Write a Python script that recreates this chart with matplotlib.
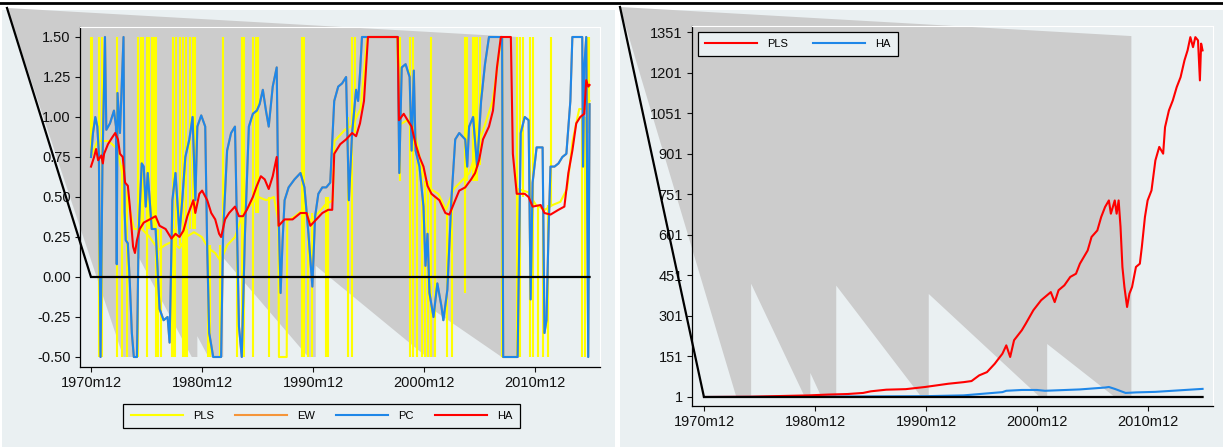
import matplotlib
matplotlib.use("Agg")
import matplotlib.pyplot as plt
from matplotlib.patches import Rectangle, Polygon
from matplotlib.lines import Line2D

plt.rcParams['font.family'] = ['Liberation Sans', 'DejaVu Sans']

# ---------------- left panel : forecast weights (clipped to [-0.5, 1.5]) ----------------
ha = [(1970.92, 0.69), (1971.20, 0.75), (1971.38, 0.80), (1971.56, 0.73), (1971.85, 0.76),
      (1971.99, 0.71), (1972.10, 0.77), (1972.45, 0.83), (1972.81, 0.87), (1973.10, 0.90),
      (1973.35, 0.86), (1973.53, 0.77), (1973.78, 0.75), (1973.99, 0.59), (1974.24, 0.57),
      (1974.42, 0.44), (1974.71, 0.19), (1974.88, 0.15), (1975.06, 0.23), (1975.31, 0.30),
      (1975.67, 0.34), (1976.21, 0.36), (1976.74, 0.38), (1977.10, 0.32), (1977.64, 0.30),
      (1978.17, 0.24), (1978.53, 0.27), (1978.89, 0.25), (1979.25, 0.29), (1979.60, 0.38),
      (1980.14, 0.48), (1980.32, 0.40), (1980.68, 0.52), (1980.93, 0.54), (1981.39, 0.48),
      (1981.75, 0.40), (1982.11, 0.36), (1982.46, 0.27), (1982.64, 0.25), (1983.00, 0.36),
      (1983.36, 0.40), (1983.89, 0.44), (1984.25, 0.38), (1984.61, 0.38), (1984.96, 0.42),
      (1985.50, 0.50), (1985.86, 0.57), (1986.22, 0.63), (1986.57, 0.61), (1986.93, 0.55),
      (1987.29, 0.63), (1987.65, 0.75), (1987.82, 0.32), (1988.36, 0.36), (1989.08, 0.36),
      (1989.79, 0.40), (1990.33, 0.40), (1990.68, 0.32), (1991.22, 0.36), (1991.76, 0.40),
      (1992.29, 0.42), (1992.65, 0.42), (1992.83, 0.77), (1993.37, 0.83), (1993.90, 0.86),
      (1994.44, 0.90), (1994.80, 0.88), (1995.15, 0.96), (1995.51, 1.10), (1995.87, 1.50),
      (1998.55, 1.50), (1998.66, 0.98), (1999.09, 1.02), (1999.44, 0.98), (1999.80, 0.94),
      (2000.16, 0.83), (2000.51, 0.75), (2000.87, 0.69), (2001.23, 0.57), (2001.59, 0.52),
      (2001.94, 0.50), (2002.30, 0.48), (2002.84, 0.40), (2003.20, 0.39), (2003.73, 0.48),
      (2004.09, 0.54), (2004.63, 0.56), (2005.16, 0.61), (2005.52, 0.65), (2005.88, 0.73),
      (2006.23, 0.86), (2006.77, 0.94), (2007.13, 1.04), (2007.49, 1.31), (2007.84, 1.50),
      (2008.74, 1.50), (2008.92, 0.77), (2009.27, 0.52), (2009.99, 0.52), (2010.34, 0.50),
      (2010.70, 0.44), (2011.42, 0.45), (2011.77, 0.40), (2012.31, 0.39), (2013.03, 0.42),
      (2013.56, 0.44), (2013.92, 0.65), (2014.28, 0.79), (2014.63, 0.96), (2014.99, 1.00),
      (2015.35, 1.02), (2015.53, 1.23), (2015.71, 1.19), (2015.83, 1.20)]

pc = [(1970.92, 0.75), (1971.10, 0.90), (1971.31, 1.00), (1971.49, 0.94), (1971.63, 0.77),
      (1971.78, -0.50), (1971.95, 0.70), (1972.18, 1.50), (1972.30, 0.92), (1972.63, 0.96),
      (1972.99, 1.04), (1973.17, 0.94), (1973.24, 0.08), (1973.31, 1.15), (1973.53, 0.90),
      (1973.85, 1.50), (1973.95, 0.41), (1974.05, 0.23), (1974.24, 0.21), (1974.42, -0.04),
      (1974.60, -0.35), (1974.78, -0.50), (1975.06, -0.50), (1975.21, 0.27), (1975.49, 0.71),
      (1975.67, 0.69), (1975.85, 0.44), (1976.03, 0.65), (1976.21, 0.48), (1976.39, 0.30),
      (1976.74, 0.30), (1977.10, -0.20), (1977.46, -0.27), (1977.82, -0.25), (1978.00, -0.41),
      (1978.25, 0.48), (1978.53, 0.65), (1978.89, 0.27), (1979.14, 0.48), (1979.42, 0.75),
      (1979.78, 0.86), (1980.07, 1.00), (1980.32, 0.48), (1980.50, 0.94), (1980.85, 1.01),
      (1981.21, 0.94), (1981.39, 0.17), (1981.57, -0.35), (1981.93, -0.50), (1982.64, -0.50),
      (1982.82, 0.27), (1983.18, 0.79), (1983.54, 0.90), (1983.89, 0.94), (1984.25, -0.31),
      (1984.50, -0.50), (1984.79, 0.27), (1985.14, 0.94), (1985.50, 1.02), (1985.86, 1.04),
      (1986.11, 1.08), (1986.40, 1.17), (1986.68, 1.04), (1986.93, 0.94), (1987.29, 1.19),
      (1987.65, 1.31), (1987.79, 0.48), (1988.00, -0.10), (1988.18, 0.23), (1988.36, 0.48),
      (1988.72, 0.56), (1989.25, 0.61), (1989.79, 0.65), (1990.15, 0.56), (1990.51, 0.27),
      (1990.86, -0.06), (1991.11, 0.38), (1991.40, 0.52), (1991.76, 0.56), (1992.11, 0.56),
      (1992.47, 0.59), (1992.83, 1.10), (1993.19, 1.19), (1993.54, 1.21), (1993.90, 1.25),
      (1994.15, 0.48), (1994.44, 0.90), (1994.80, 1.17), (1994.98, 1.10), (1995.15, 1.27),
      (1995.33, 1.50), (1998.55, 1.50), (1998.69, 0.65), (1998.91, 1.31), (1999.26, 1.33),
      (1999.62, 1.25), (1999.80, 0.79), (2000.00, 1.29), (2000.16, 0.79), (2000.51, 0.69),
      (2000.87, 0.44), (2001.05, 0.07), (2001.23, 0.27), (2001.41, -0.10), (2001.77, -0.25),
      (2002.12, -0.04), (2002.48, -0.18), (2002.66, -0.27), (2003.02, -0.08), (2003.38, 0.48),
      (2003.73, 0.86), (2004.09, 0.90), (2004.63, 0.86), (2004.81, 0.69), (2004.98, 0.94),
      (2005.34, 1.00), (2005.70, 0.69), (2006.06, 1.10), (2006.41, 1.33), (2006.77, 1.50),
      (2007.95, 1.50), (2008.05, -0.50), (2009.35, -0.50), (2009.63, 0.90), (2009.99, 1.00),
      (2010.34, 0.98), (2010.52, -0.14), (2010.70, 0.59), (2011.06, 0.81), (2011.60, 0.81),
      (2011.77, -0.35), (2011.95, -0.27), (2012.13, 0.27), (2012.31, 0.69), (2012.67, 0.69),
      (2013.03, 0.71), (2013.38, 0.75), (2013.74, 0.77), (2014.10, 1.10), (2014.28, 1.50),
      (2015.17, 1.50), (2015.24, 0.69), (2015.35, 1.31), (2015.53, 1.50), (2015.71, -0.50),
      (2015.83, 1.08)]

# EW lies underneath PC almost everywhere
ew = list(pc)

# PLS: slowly moving level ...
pls = [(1970.92, 0.75), (1971.5, 0.85), (1972.5, 0.85), (1973.3, 0.80), (1974.0, 0.55),
       (1974.8, 0.30), (1975.5, 0.30), (1976.2, 0.25), (1977.0, 0.17), (1977.6, 0.20),
       (1978.2, 0.22), (1978.9, 0.18), (1979.5, 0.25), (1980.2, 0.28), (1980.9, 0.25),
       (1981.5, 0.18), (1982.1, 0.15), (1982.6, 0.10), (1983.2, 0.20), (1983.9, 0.25),
       (1984.6, 0.40), (1985.3, 0.45), (1986.0, 0.50), (1986.7, 0.48), (1987.4, 0.50),
       (1987.8, 0.35), (1987.85, -0.50), (1988.55, -0.50), (1988.6, 0.35), (1989.3, 0.38),
       (1990.0, 0.42), (1990.7, 0.35), (1991.4, 0.40), (1992.0, 0.45), (1992.7, 0.48),
       (1992.85, 0.85), (1993.8, 0.92), (1994.5, 0.95), (1995.2, 1.05), (1995.8, 1.50),
       (1998.5, 1.50), (1998.7, 0.95), (1999.4, 0.98), (2000.1, 0.90), (2000.8, 0.65),
       (2001.5, 0.55), (2002.2, 0.52), (2002.9, 0.42), (2003.6, 0.55), (2004.3, 0.60),
       (2005.0, 0.65), (2005.7, 0.80), (2006.4, 0.95), (2007.1, 1.10), (2007.5, 1.30),
       (2007.85, 1.50), (2007.95, 1.50), (2008.0, -0.50), (2009.3, -0.50), (2009.35, 0.55),
       (2010.3, 0.53), (2011.0, 0.45), (2011.8, 0.42), (2012.5, 0.45), (2013.2, 0.47),
       (2013.8, 0.55), (2014.3, 0.85), (2014.9, 1.05), (2015.5, 1.05), (2015.83, 1.10)]

# ... plus one-month jumps: (date, from, to)
pls_spikes = [(1970.95, 0.75, 1.5), (1971.01, 0.8, 1.5), (1971.64, -0.5, 1.5), (1971.91, -0.5, 1.5),
              (1973.26, -0.5, 1.5), (1973.71, -0.5, 0.7), (1974.16, -0.5, 0.5), (1975.15, -0.5, 1.5),
              (1975.42, 0.3, 1.5), (1975.60, 0.3, 1.5), (1975.96, -0.5, 1.5), (1976.14, 0.3, 1.5),
              (1976.41, 0.3, 1.5), (1976.59, 0.3, 1.5), (1976.80, -0.5, 1.5), (1976.95, -0.5, 0.3),
              (1977.22, -0.5, 0.3), (1978.21, -0.5, 0.3), (1978.30, -0.5, 1.5), (1978.48, -0.5, 0.3),
              (1978.57, 0.2, 1.5), (1978.93, 0.2, 1.5), (1979.21, -0.5, 1.5), (1979.39, -0.5, 0.3),
              (1979.48, 0.3, 1.5), (1979.57, -0.5, 0.3), (1979.84, 0.3, 1.5), (1980.11, 0.3, 1.5),
              (1980.29, 0.3, 1.5), (1981.46, -0.5, 0.2), (1981.64, -0.5, 0.2), (1982.54, -0.5, 0.2),
              (1982.81, 0.2, 1.5), (1984.10, -0.5, 0.3), (1984.52, -0.5, 1.5), (1984.70, -0.5, 1.5),
              (1985.50, -0.5, 1.5), (1985.78, 0.4, 1.5), (1985.96, 0.4, 1.5), (1986.95, -0.5, 0.5),
              (1989.90, -0.5, 1.5), (1990.10, -0.5, 1.5), (1990.50, -0.5, 0.4), (1990.80, -0.5, 0.4),
              (1992.10, -0.5, 0.5), (1992.30, -0.5, 0.5), (1994.07, -0.5, 1.0), (1994.40, -0.5, 1.5),
              (1994.70, 0.9, 1.5), (1998.75, 0.6, 1.5), (1999.66, -0.5, 1.5), (1999.92, -0.5, 1.5),
              (2000.30, -0.5, 0.8), (2000.74, -0.5, 0.7), (2001.01, -0.5, 0.6), (2001.28, -0.5, 0.6),
              (2001.55, -0.5, 1.5), (2001.91, -0.5, 0.5), (2002.99, -0.5, 0.4), (2003.44, -0.5, 0.5),
              (2004.60, -0.1, 1.5), (2004.80, 0.6, 1.5), (2005.30, 0.6, 1.5), (2005.50, 0.6, 1.5),
              (2005.70, 0.6, 1.5), (2006.00, 0.7, 1.5), (2007.94, -0.5, 1.5), (2009.29, -0.5, 1.5),
              (2009.57, -0.5, 1.5), (2009.84, 0.5, 1.5), (2010.47, -0.5, 1.5), (2010.74, -0.5, 1.5),
              (2011.19, -0.5, 0.45), (2011.64, -0.5, 0.45), (2012.09, -0.5, 0.45), (2012.36, 0.45, 1.5),
              (2015.15, -0.5, 1.0), (2015.42, -0.5, 1.0), (2015.69, 0.9, 1.5), (2015.80, 0.9, 1.5)]

# ---------------- right panel : cumulative wealth ----------------
cw_pls = [(1970.92, 1), (1975.0, 2), (1980.37, 7), (1982.11, 10), (1983.85, 12), (1985.25, 16),
          (1985.95, 22), (1987.34, 28), (1989.09, 30), (1990.83, 38), (1991.88, 44), (1992.92, 50),
          (1993.62, 53), (1994.32, 56), (1995.02, 60), (1995.71, 81), (1996.41, 93), (1997.11, 124),
          (1997.46, 143), (1997.80, 161), (1998.15, 192), (1998.50, 149), (1998.85, 211),
          (1999.55, 248), (1999.90, 272), (2000.59, 322), (2001.29, 359), (2001.64, 371),
          (2002.16, 389), (2002.51, 352), (2002.86, 396), (2003.38, 414), (2003.91, 445),
          (2004.43, 457), (2004.78, 494), (2005.48, 543), (2005.83, 593), (2006.35, 617),
          (2006.70, 667), (2007.05, 704), (2007.39, 728), (2007.57, 679), (2007.92, 728),
          (2008.09, 679), (2008.27, 728), (2008.44, 630), (2008.61, 482), (2008.79, 408),
          (2009.03, 334), (2009.24, 383), (2009.48, 408), (2009.83, 482), (2010.18, 494),
          (2010.36, 556), (2010.64, 667), (2010.88, 728), (2011.23, 765), (2011.58, 876),
          (2011.93, 926), (2012.28, 901), (2012.45, 999), (2012.80, 1061), (2013.15, 1098),
          (2013.50, 1147), (2013.85, 1184), (2014.20, 1246), (2014.48, 1283), (2014.73, 1332),
          (2014.97, 1295), (2015.18, 1332), (2015.42, 1320), (2015.59, 1172), (2015.70, 1308),
          (2015.83, 1283)]

cw_ha = [(1970.92, 1), (1980.0, 2), (1985.0, 3), (1990.83, 4), (1994.3, 7), (1997.8, 19),
         (1998.15, 24), (1999.55, 27), (2000.9, 27), (2001.64, 24), (2004.78, 29), (2007.05, 36),
         (2007.39, 38), (2007.92, 31), (2008.9, 16), (2009.83, 18), (2011.58, 20), (2013.50, 25),
         (2015.42, 30), (2015.83, 31)]

# recession bands (NBER) and the heights where the shaded polygon breaks
rec_start = [1973 + 10/12, 1980.0, 1981.5, 1990.5, 2001 + 2/12, 2007 + 11/12]
rec_end = [1975 + 2/12, 1980.5, 1982 + 10/12, 1991 + 2/12, 2001 + 10/12, 2009 + 5/12]
rec_h_left = [0.13, -0.37, 0.12, 0.07, -0.21, 1.5]
rec_h_right = [420, 90, 413, 382, 197, 1336]

tick_dates = [1970 + 11/12, 1980 + 11/12, 1990 + 11/12, 2000 + 11/12, 2010 + 11/12]
tick_labels = ['1970m12', '1980m12', '1990m12', '2000m12', '2010m12']
yt_left = [-0.5, -0.25, 0, 0.25, 0.5, 0.75, 1.0, 1.25, 1.5]
yt_right = [1, 151, 301, 451, 601, 751, 901, 1051, 1201, 1351]
ref_left = 0.0
ref_right = 1.0
end_date = 2015.83

# ---------------- drawing ----------------
W, H = 1223, 447
fig = plt.figure(figsize=(W / 100, H / 100), dpi=100, facecolor='white')
bg = '#eaf0f2'
grey = '#cccccc'
c_pls, c_ew, c_pc, c_ha = '#ffff00', '#f5953a', '#1f87e8', '#ff0000'

fig.add_artist(Rectangle((2 / W, 0), 613 / W, (H - 10) / H, transform=fig.transFigure,
                         fc=bg, ec='none', zorder=-10))
fig.add_artist(Rectangle((620 / W, 0), 603 / W, (H - 10) / H, transform=fig.transFigure,
                         fc=bg, ec='none', zorder=-10))
fig.add_artist(Line2D([0, 1], [1 - 2.5 / H] * 2, color='black', lw=2, transform=fig.transFigure))

ax1 = fig.add_axes([80 / W, (H - 367) / H, 520 / W, 340 / H], facecolor=bg)
ax2 = fig.add_axes([692 / W, (H - 406) / H, 521 / W, 380 / H], facecolor=bg)
ax1.set_xlim(1969.93, 2016.77)
ax1.set_ylim(-0.5625, 1.5625)
ax2.set_xlim(1969.84, 2016.77)
ax2.set_ylim(-32.3, 1373.2)


def style(ax, yt, fmt):
    ax.set_xticks(tick_dates)
    ax.set_xticklabels(tick_labels)
    ax.set_yticks(yt)
    ax.set_yticklabels([fmt.format(v) for v in yt])
    ax.tick_params(direction='out', length=3.6, width=0.8, labelsize=10.5, pad=3, colors='#111111')
    for s in ['top', 'right']:
        ax.spines[s].set_color('white')
        ax.spines[s].set_linewidth(0.8)
    for s in ['left', 'bottom']:
        ax.spines[s].set_color('black')
        ax.spines[s].set_linewidth(0.9)


def shade(ax, heights, base, ref, origin):
    # the broken recession fill starts from the page corner
    ox, oy = ax.transData.inverted().transform((origin[0], H - origin[1]))
    pts = [(ox, oy)]
    for s, e, h in zip(rec_start, rec_end, heights):
        pts += [(s, base), (e, base), (e, h)]
    ax.add_patch(Polygon(pts, closed=True, fc=grey, ec='none', clip_on=False, zorder=0.5))
    ax.plot([ox, tick_dates[0], end_date], [oy, ref, ref], color='black', lw=1.6,
            clip_on=False, zorder=6, solid_joinstyle='miter')


style(ax1, yt_left, '{:.2f}')
style(ax2, yt_right, '{:d}')

shade(ax1, rec_h_left, -0.5, ref_left, (7, 8))
shade(ax2, rec_h_right, ref_right, ref_right, (620, 7))

lw = 1.5
t, v = zip(*pls)
ax1.plot(t, v, color=c_pls, lw=lw, zorder=2, label='PLS')
st, lo, hi = zip(*pls_spikes)
ax1.vlines(st, lo, hi, color=c_pls, lw=lw, zorder=2)
t, v = zip(*ew)
ax1.plot(t, v, color=c_ew, lw=lw, zorder=3, label='EW')
t, v = zip(*pc)
ax1.plot(t, v, color=c_pc, lw=lw, zorder=4, label='PC')
t, v = zip(*ha)
ax1.plot(t, v, color=c_ha, lw=lw, zorder=5, label='HA')

t, v = zip(*cw_pls)
ax2.plot(t, v, color=c_ha, lw=lw, zorder=4, label='PLS')
t, v = zip(*cw_ha)
ax2.plot(t, v, color=c_pc, lw=lw, zorder=3, label='HA')

leg1 = ax1.legend(loc='center', bbox_to_anchor=(321.5 / W, 1 - 416 / H), bbox_transform=fig.transFigure,
                  ncol=4, fontsize=8, handlelength=4.7, handletextpad=0.9, columnspacing=1.9,
                  borderpad=0.65, frameon=True, fancybox=False, edgecolor='black', facecolor=bg,
                  framealpha=1)
leg1.get_frame().set_linewidth(0.9)

leg2 = ax2.legend(loc='upper left', bbox_to_anchor=(698 / W, 1 - 32 / H), bbox_transform=fig.transFigure,
                  borderaxespad=0, ncol=2, fontsize=8, handlelength=4.7, handletextpad=0.9,
                  columnspacing=2.2, borderpad=0.65, frameon=True, fancybox=False, edgecolor='black',
                  facecolor=bg, framealpha=1)
leg2.get_frame().set_linewidth(0.9)
leg2.set_zorder(10)

fig.savefig('out.png', dpi=100)
